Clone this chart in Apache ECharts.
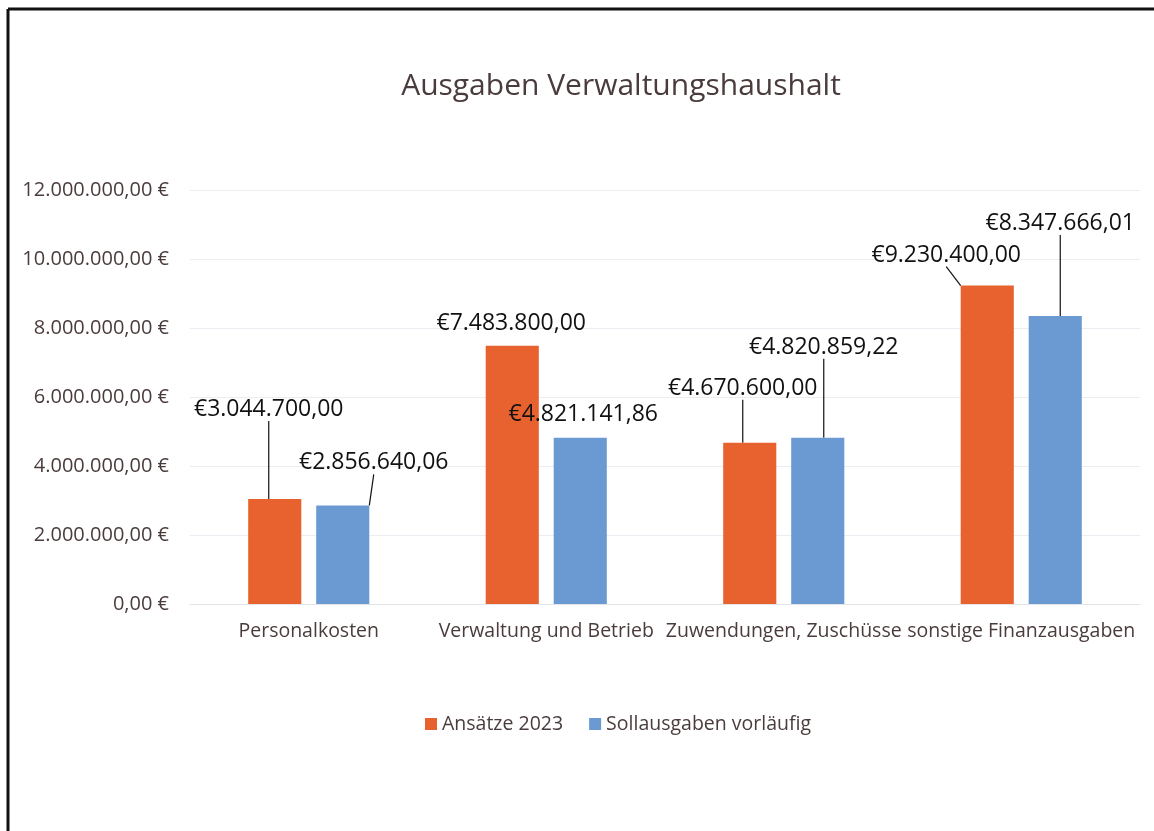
<!DOCTYPE html>
<html>
<head>
<meta charset="utf-8">
<script src="https://cdn.jsdelivr.net/npm/echarts@6/dist/echarts.min.js"></script>
<style>
html,body{margin:0;padding:0;background:#fff;}
#c{width:1154px;height:831px;}
</style>
</head>
<body>
<div id="c"></div>
<script>
const categories = ['Personalkosten', 'Verwaltung und Betrieb', 'Zuwendungen, Zuschüsse', 'sonstige Finanzausgaben'];
const seriesNames = ['Ansätze 2023', 'Sollausgaben vorläufig'];
const ansaetze = [3044700.00, 7483800.00, 4670600.00, 9230400.00];
const sollausgaben = [2856640.06, 4821141.86, 4820859.22, 8347666.01];
const yTicks = [0, 2000000, 4000000, 6000000, 8000000, 10000000, 12000000];

// label offsets (styling, relative to default top position)
const offsA = [[-6, -73], [-1, -6], [-7, -38], [-41, -14]];
const offsS = [[31, -26], [3, -7], [6, -74], [5, -76]];
const lineA = [true, false, true, true];
const lineS = [true, false, true, true];

const FONT = '"Open Sans", "Noto Sans", sans-serif';
const TXT = '#4a3c3c';

function fmtAxis(v) {
  const s = v.toFixed(2).split('.');
  return s[0].replace(/\B(?=(\d{3})+(?!\d))/g, '.') + ',' + s[1] + ' €';
}
function fmtLabel(v) {
  const s = v.toFixed(2).split('.');
  return '€' + s[0].replace(/\B(?=(\d{3})+(?!\d))/g, '.') + ',' + s[1];
}

function mkData(vals, lines) {
  return vals.map((v, i) => ({ value: v, labelLine: { show: lines[i] } }));
}

const chart = echarts.init(document.getElementById('c'), null, { renderer: 'canvas' });

function mkSeries(name, vals, color, offs, lines) {
  return {
    name: name,
    type: 'bar',
    barGap: '28%',
    barCategoryGap: '49%',
    itemStyle: { color: color },
    data: mkData(vals, lines),
    label: {
      show: true,
      position: 'top',
      distance: 5,
      formatter: p => fmtLabel(p.value),
      fontFamily: FONT,
      fontSize: 23,
      color: '#111'
    },
    labelLine: {
      show: true,
      lineStyle: { color: '#111', width: 1.2 }
    },
    labelLayout: p => ({ dx: offs[p.dataIndex][0], dy: offs[p.dataIndex][1] })
  };
}

chart.setOption({
  animation: false,
  backgroundColor: '#fff',
  title: {
    text: 'Ausgaben Verwaltungshaushalt',
    left: 616,
    textAlign: 'center',
    top: 66,
    textStyle: { fontFamily: FONT, fontSize: 30, fontWeight: 'normal', color: TXT }
  },
  legend: {
    data: seriesNames,
    left: 420,
    top: 709,
    icon: 'rect',
    itemWidth: 12,
    itemHeight: 12,
    itemGap: 26,
    textStyle: { fontFamily: FONT, fontSize: 19.5, color: TXT }
  },
  grid: { left: 190, right: 14, top: 190, bottom: 227, containLabel: false },
  xAxis: {
    type: 'category',
    data: categories,
    axisTick: { show: false },
    axisLine: { lineStyle: { color: '#e3e3ea' } },
    axisLabel: { fontFamily: FONT, fontSize: 19.5, color: TXT, margin: 17, interval: 0 }
  },
  yAxis: {
    type: 'value',
    min: 0,
    max: 12000000,
    interval: 2000000,
    axisLine: { show: false },
    axisTick: { show: false },
    splitLine: { lineStyle: { color: '#ececf2' } },
    axisLabel: {
      fontFamily: FONT, fontSize: 20, color: TXT, margin: 21,
      formatter: v => yTicks.includes(v) ? fmtAxis(v) : ''
    }
  },
  graphic: [
    { type: 'line', shape: { x1: 8, y1: 9, x2: 1154, y2: 9 }, style: { stroke: '#111', lineWidth: 3 } },
    { type: 'line', shape: { x1: 8, y1: 9, x2: 8, y2: 831 }, style: { stroke: '#111', lineWidth: 3 } }
  ],
  series: [
    mkSeries(seriesNames[0], ansaetze, '#e8622f', offsA, lineA),
    mkSeries(seriesNames[1], sollausgaben, '#6b9ad3', offsS, lineS)
  ]
});
</script>
</body>
</html>
